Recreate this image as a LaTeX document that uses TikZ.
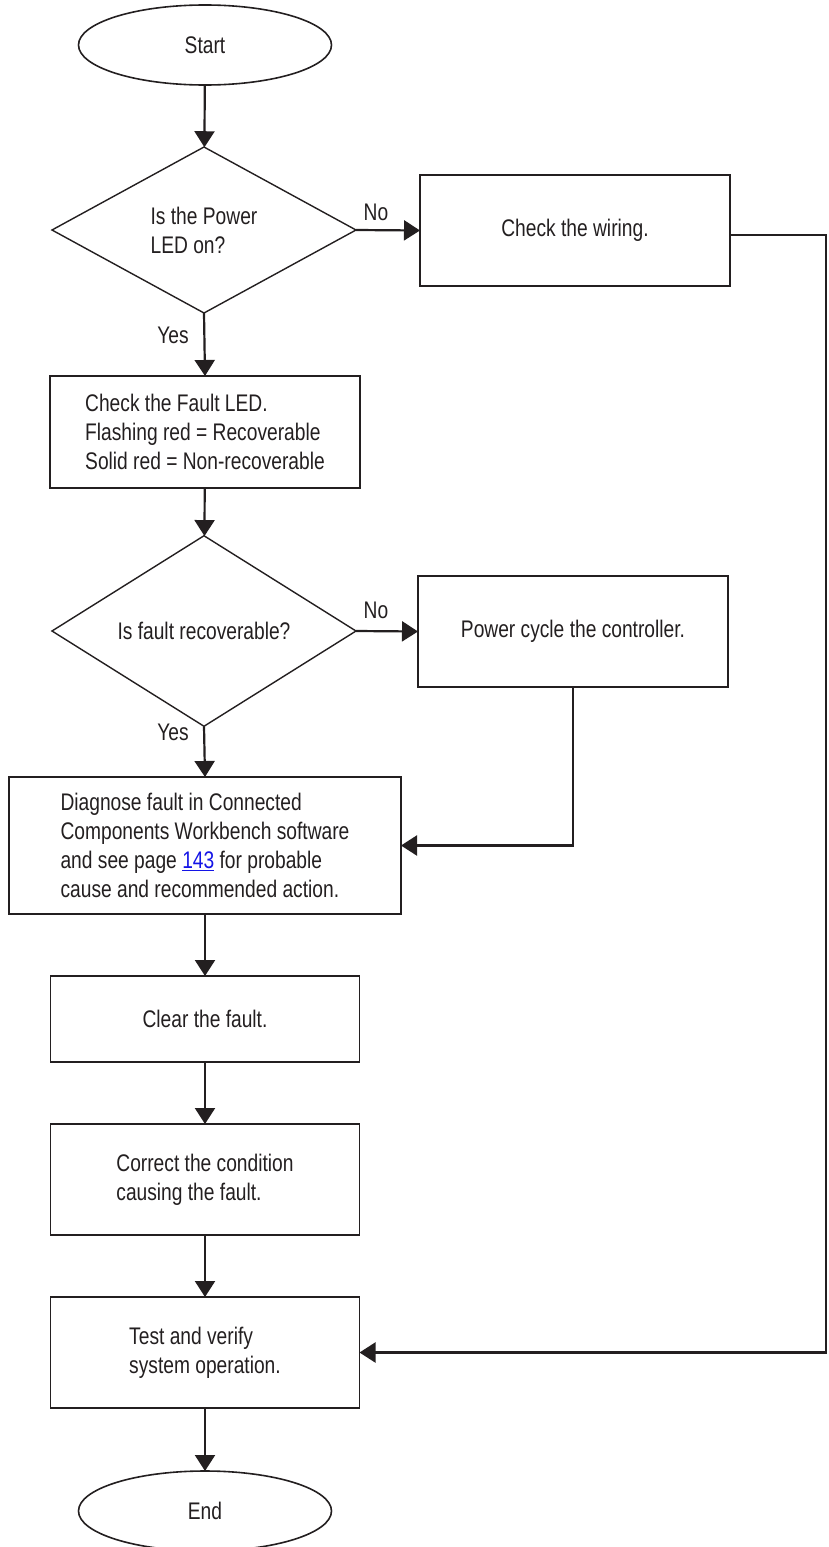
\documentclass[tikz,border=0pt]{standalone}
\usepackage{fontspec}
\setmainfont[FakeStretch=0.8]{Liberation Sans}
\usetikzlibrary{shapes.geometric,arrows.meta}
\definecolor{linkblue}{RGB}{20,20,230}
\definecolor{ink}{RGB}{35,31,32}
\begin{document}
\begin{tikzpicture}[x=1pt,y=-1pt,
  every node/.style={font=\fontsize{24}{29}\selectfont, inner sep=0pt, outer sep=0pt, text=ink},
  term/.style={draw=ink, ellipse, line width=1.6pt, minimum width=253pt, minimum height=80pt},
  decision/.style={draw=ink, diamond, line width=1.4pt, minimum width=304pt, minimum height=166pt, align=left},
  proc/.style={draw=ink, rectangle, line width=1.6pt, align=left},
  flow/.style={draw=ink, line width=2.2pt, -{Triangle[width=20pt,length=16pt]}},
  lbl/.style={}
]
\useasboundingbox (0,0) rectangle (828,1547);

\node[term] (start) at (205,45) {Start};
\node[decision] (d1) at (204,230) {Is the Power\\LED on?};
\node[proc, minimum width=310pt, minimum height=111pt] (wiring) at (575,230.5) {Check the wiring.};
\node[proc, minimum width=310pt, minimum height=112pt] (fault) at (205,432) {Check the Fault LED.\\Flashing red = Recoverable\\Solid red = Non-recoverable};
\node[decision] (d2) at (204,631) {Is fault recoverable?};
\node[proc, minimum width=310pt, minimum height=111pt] (power) at (573,631.5) {Power cycle the controller.};
\node[proc, minimum width=392pt, minimum height=137pt] (diag) at (205,845.5) {Diagnose fault in Connected\\Components Workbench software\\and see page \textcolor{linkblue}{\underline{143}} for probable\\cause and recommended action.};
\node[proc, minimum width=309pt, minimum height=86pt] (clear) at (205,1019) {Clear the fault.};
\node[proc, minimum width=309pt, minimum height=111pt] (correct) at (205,1179.5) {Correct the condition\\causing the fault.};
\node[proc, minimum width=309pt, minimum height=111pt] (test) at (205,1352.5) {Test and verify\\system operation.};
\node[term] (end) at (205,1511) {End};

\node[lbl] (no1) at (376,212) {No};
\node[lbl] (no2) at (376,610) {No};
\node[lbl] (yes1) at (173,335) {Yes};
\node[lbl] (yes2) at (173,732) {Yes};

\coordinate (rc) at (826,235);

\draw[flow] (start) -- (d1);
\draw[flow] (d1.east) -- (wiring.west);
\draw[flow] (d1.south) -- (fault.north);
\draw[flow] (fault) -- (d2);
\draw[flow] (d2.east) -- (power.west);
\draw[flow] (d2.south) -- (diag.north);
\draw[flow] (power.south) |- (diag.east);
\draw[flow] (diag) -- (clear);
\draw[flow] (clear) -- (correct);
\draw[flow] (correct) -- (test);
\draw[flow] (test) -- (end);
\draw[flow] (wiring.east |- rc) -- (rc) |- (test.east);
\end{tikzpicture}
\end{document}
